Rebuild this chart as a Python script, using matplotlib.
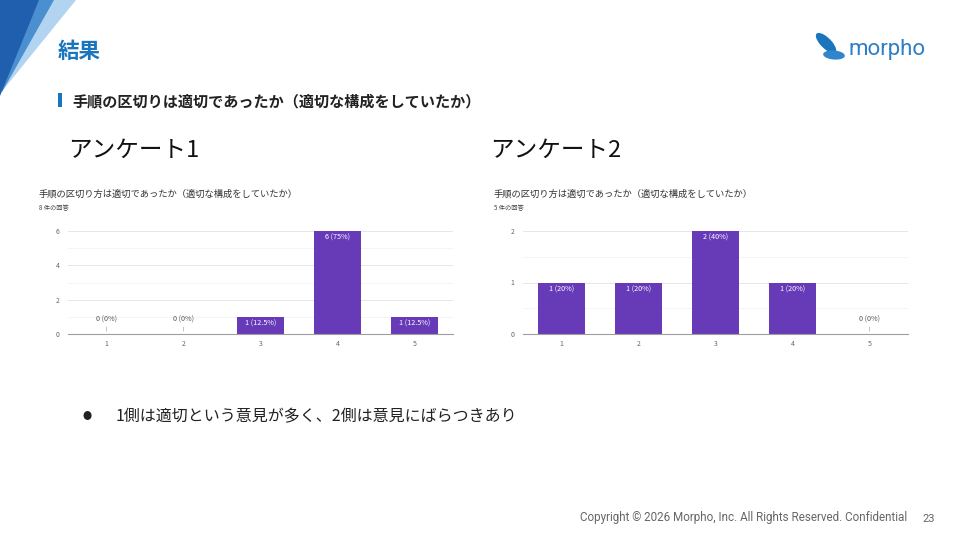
import matplotlib.pyplot as plt
from matplotlib.patches import Polygon, Rectangle, Ellipse

plt.rcParams['font.family'] = ['Noto Sans CJK JP', 'DejaVu Sans']

# Survey data (responses per rating 1-5)
ratings = [1, 2, 3, 4, 5]
survey1_counts = [0, 0, 1, 6, 1]
survey1_labels = ["0 (0%)", "0 (0%)", "1 (12.5%)", "6 (75%)", "1 (12.5%)"]
survey2_counts = [1, 1, 2, 1, 0]
survey2_labels = ["1 (20%)", "1 (20%)", "2 (40%)", "1 (20%)", "0 (0%)"]
chart_title = "手順の区切り方は適切であったか（適切な構成をしていたか）"
survey1_n = "8 件の回答"
survey2_n = "5 件の回答"

W, H = 960, 540
BLUE = "#1b75bc"
PURPLE = "#673ab7"

fig = plt.figure(figsize=(9.6, 5.4), dpi=100)
fig.patch.set_facecolor("white")


def fx(x):
    return x / W


def fy(y):
    return 1 - y / H


def px_axes(x0, y0, x1, y1):
    return fig.add_axes([fx(x0), fy(y1), (x1 - x0) / W, (y1 - y0) / H])


# top-left decoration
deco = [
    ([(0, 0), (76, 0), (3, 90)], "#b3d4f0"),
    ([(0, 0), (54, 0), (2, 92)], "#4a90d0"),
    ([(0, 0), (39, 0), (0, 96)], "#1f5fae"),
]
for pts, col in deco:
    fig.patches.append(Polygon([(fx(a), fy(b)) for a, b in pts], closed=True,
                               transform=fig.transFigure, facecolor=col,
                               edgecolor="none"))

# slide header
fig.text(fx(58), fy(51), "結果", color=BLUE, fontsize=15.5, fontweight="bold",
         va="center", ha="left")
fig.patches.append(Rectangle((fx(58), fy(107)), 4 / W, 14 / H,
                             transform=fig.transFigure, facecolor=BLUE,
                             edgecolor="none"))
fig.text(fx(72), fy(101), "手順の区切りは適切であったか（適切な構成をしていたか）",
         fontsize=10.9, fontweight="bold", color="#222222", va="center")

# logo
fig.patches.append(Ellipse((fx(826), fy(43)), 13 / W, 22 / H, angle=25,
                           transform=fig.transFigure, facecolor=BLUE,
                           edgecolor="none"))
fig.patches.append(Ellipse((fx(834), fy(55)), 22 / W, 9 / H, angle=-15,
                           transform=fig.transFigure, facecolor="#2f86cc",
                           edgecolor="none"))
fig.text(fx(849), fy(50), "morpho", color="#2f7fc4", fontsize=16,
         family=["Roboto", "DejaVu Sans"], va="center", ha="left")

# survey headings
fig.text(fx(68), fy(150), "アンケート1", fontsize=17, color="#111111", va="center")
fig.text(fx(490), fy(150), "アンケート2", fontsize=17, color="#111111", va="center")


def draw_chart(x0, x1, counts, labels, n_text, ymax, major, minor, title_x):
    fig.text(fx(title_x), fy(194), chart_title, fontsize=6.7, color="#333333",
             va="center")
    fig.text(fx(title_x), fy(208), n_text, fontsize=4.5, color="#444444",
             va="center")
    ax = px_axes(x0, 231, x1, 334)
    ax.bar(ratings, counts, width=0.62, color=PURPLE, zorder=3)
    ax.set_xlim(0.5, 5.5)
    ax.set_ylim(0, ymax)
    ax.set_yticks(major)
    ax.set_yticks(minor, minor=True)
    ax.set_xticks(ratings)
    ax.grid(axis="y", which="major", color="#e6e6e6", linewidth=0.7, zorder=0)
    ax.grid(axis="y", which="minor", color="#f3f3f3", linewidth=0.6, zorder=0)
    for s in ["top", "right", "left"]:
        ax.spines[s].set_visible(False)
    ax.spines["bottom"].set_color("#9e9e9e")
    ax.spines["bottom"].set_linewidth(0.8)
    ax.spines["bottom"].set_zorder(4)
    ax.tick_params(axis="both", which="both", length=0, labelsize=5,
                   colors="#666666", pad=6)
    ax.tick_params(axis="x", pad=4)
    for r, c, lab in zip(ratings, counts, labels):
        if c > 0:
            ax.annotate(lab, (r, c), xytext=(0, -2), textcoords="offset points",
                        ha="center", va="top", fontsize=5.2, color="white",
                        zorder=5)
        else:
            ax.annotate(lab, (r, 0), xytext=(0, 7.5), textcoords="offset points",
                        ha="center", va="bottom", fontsize=5.2, color="#555555",
                        zorder=5)
            ax.annotate("", (r, 0), xytext=(0, 7), textcoords="offset points",
                        arrowprops=dict(arrowstyle="-", color="#aaaaaa", lw=0.5))
    return ax


draw_chart(68, 453, survey1_counts, survey1_labels, survey1_n, 6,
           [0, 2, 4, 6], [1, 3, 5], 39)
draw_chart(523, 908, survey2_counts, survey2_labels, survey2_n, 2,
           [0, 1, 2], [0.5, 1.5], 494)

# bullet note
fig.text(fx(87), fy(417), "●", fontsize=6.5, color="#222222", va="center",
         ha="center")
fig.text(fx(116), fy(417), "1側は適切という意見が多く、2側は意見にばらつきあり",
         fontsize=11.5, color="#222222", va="center")

# footer
fig.text(fx(907), fy(518), "Copyright © 2026 Morpho, Inc. All Rights Reserved. Confidential",
         fontsize=8.4, color="#666666", ha="right", va="center",
         family=["Roboto", "DejaVu Sans"])
fig.text(fx(922), fy(519), "23", fontsize=8, color="#666666", ha="left",
         va="center", family=["Roboto", "DejaVu Sans"])

fig.savefig("out.png", dpi=100, facecolor="white")
